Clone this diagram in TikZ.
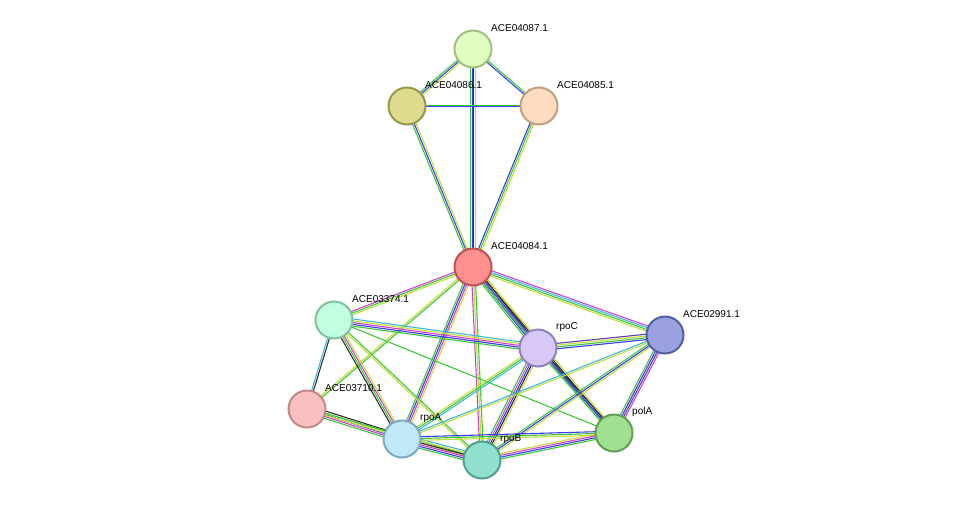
\documentclass[tikz,border=0pt]{standalone}
\usepackage{fontspec}
\setmainfont{Liberation Sans}
\usetikzlibrary{calc}

\definecolor{egreen}{HTML}{3CC83C}
\definecolor{eblue}{HTML}{3C3CF0}
\definecolor{eyellow}{HTML}{C8DC3C}
\definecolor{emag}{HTML}{D040D0}
\definecolor{ecyan}{HTML}{40B8D8}
\definecolor{epurple}{HTML}{6040A0}
\definecolor{eblack}{HTML}{303030}

\tikzset{
    protein/.style={circle, draw, line width=2pt, minimum size=37pt, inner sep=0pt},
    edge/.style={line width=1.1pt},
    tag/.style={anchor=west, font=\fontsize{10pt}{11pt}\selectfont, inner sep=0pt}
}

% one strand per colour, side by side
\newcommand\link[3]{%
    \foreach \c [count=\i] in {#3} {\xdef\nstr{\i}}%
    \foreach \c [count=\i] in {#3} {%
        \pgfmathsetmacro\off{(\i-(\nstr+1)/2)*1.8}%
        \draw[edge, \c] ($(#1)!\off pt!90:(#2)$) -- ($(#2)!\off pt!-90:(#1)$);}%
}

\begin{document}
\begin{tikzpicture}[x=1pt, y=-1pt]
    \useasboundingbox (0,0) rectangle (976,506);

    % positions
    \coordinate (c87) at (473,49);
    \coordinate (c86) at (407,106);
    \coordinate (c85) at (539,106);
    \coordinate (c84) at (473,267);
    \coordinate (c374) at (334,320);
    \coordinate (crpoC) at (538,348);
    \coordinate (c991) at (665,335);
    \coordinate (c710) at (307,409);
    \coordinate (crpoA) at (402,439);
    \coordinate (crpoB) at (482,460);
    \coordinate (cpolA) at (614,433);

    % edges
    \link{c87}{c86}{egreen,eblue,eyellow}
    \link{c87}{c85}{eblue,egreen}
    \link{c87}{c84}{egreen,eblue,eblack,eyellow}
    \link{c86}{c85}{eblue,egreen}
    \link{c86}{c84}{egreen,eblue,eyellow}
    \link{c85}{c84}{eblue,egreen,eyellow}
    \link{c84}{c374}{emag,egreen,eyellow}
    \link{c84}{crpoC}{egreen,eblue,emag,eblack,eyellow}
    \link{c84}{c991}{eyellow,egreen,ecyan,emag}
    \link{c84}{c710}{eyellow,egreen}
    \link{c84}{crpoA}{egreen,eblue,emag,eyellow}
    \link{c84}{crpoB}{emag,eyellow,egreen}
    \link{c84}{cpolA}{egreen,eblue,eblack,eyellow}
    \link{c374}{crpoC}{egreen,eblue,emag,eyellow,ecyan}
    \link{c374}{c710}{ecyan,eblack}
    \link{c374}{crpoA}{eblack,egreen,emag,eyellow}
    \link{c374}{crpoB}{eyellow,egreen}
    \link{c374}{cpolA}{egreen}
    \link{crpoC}{c991}{eblue,egreen,eyellow,epurple}
    \link{crpoC}{crpoA}{eyellow,egreen,ecyan}
    \link{crpoC}{crpoB}{egreen,emag,eblue,eblack,eyellow}
    \link{crpoC}{cpolA}{egreen,eblue,eblack}
    \link{c991}{cpolA}{egreen,eblue,epurple,emag}
    \link{c991}{crpoB}{egreen,eblue,eyellow}
    \link{c991}{crpoA}{ecyan,eyellow}
    \link{c710}{crpoA}{egreen,emag,eblue,eyellow,eblack}
    \link{c710}{crpoB}{eyellow,egreen}
    \link{crpoA}{crpoB}{egreen,eblue,emag,eblack,eyellow,ecyan}
    \link{crpoA}{cpolA}{eyellow,egreen,eblue}
    \link{crpoB}{cpolA}{egreen,eblue,emag,eyellow}

    % proteins
    \node[protein, fill={rgb,255:red,224;green,255;blue,192}, draw={rgb,255:red,160;green,192;blue,128}] (n87) at (c87) {};
    \node[protein, fill={rgb,255:red,220;green,220;blue,140}, draw={rgb,255:red,150;green,150;blue,80}] (n86) at (c86) {};
    \node[protein, fill={rgb,255:red,255;green,220;blue,192}, draw={rgb,255:red,192;green,160;blue,128}] (n85) at (c85) {};
    \node[protein, fill={rgb,255:red,255;green,144;blue,144}, draw={rgb,255:red,192;green,80;blue,80}] (n84) at (c84) {};
    \node[protein, fill={rgb,255:red,192;green,255;blue,224}, draw={rgb,255:red,128;green,192;blue,160}] (n374) at (c374) {};
    \node[protein, fill={rgb,255:red,216;green,200;blue,248}, draw={rgb,255:red,144;green,128;blue,192}] (nrpoC) at (crpoC) {};
    \node[protein, fill={rgb,255:red,154;green,160;blue,224}, draw={rgb,255:red,80;green,96;blue,160}] (n991) at (c991) {};
    \node[protein, fill={rgb,255:red,248;green,192;blue,192}, draw={rgb,255:red,192;green,136;blue,136}] (n710) at (c710) {};
    \node[protein, fill={rgb,255:red,192;green,232;blue,248}, draw={rgb,255:red,128;green,168;blue,192}] (nrpoA) at (crpoA) {};
    \node[protein, fill={rgb,255:red,144;green,224;blue,208}, draw={rgb,255:red,80;green,160;blue,144}] (nrpoB) at (crpoB) {};
    \node[protein, fill={rgb,255:red,160;green,224;blue,144}, draw={rgb,255:red,96;green,160;blue,80}] (npolA) at (cpolA) {};

    % labels
    \node[tag] at ($(c87)+(18,-21)$) {ACE04087.1};
    \node[tag] at ($(c86)+(18,-21)$) {ACE04086.1};
    \node[tag] at ($(c85)+(18,-21)$) {ACE04085.1};
    \node[tag] at ($(c84)+(18,-21)$) {ACE04084.1};
    \node[tag] at ($(c374)+(18,-21)$) {ACE03374.1};
    \node[tag] at ($(crpoC)+(18,-21)$) {rpoC};
    \node[tag] at ($(c991)+(18,-21)$) {ACE02991.1};
    \node[tag] at ($(c710)+(18,-21)$) {ACE03710.1};
    \node[tag] at ($(crpoA)+(18,-21)$) {rpoA};
    \node[tag] at ($(crpoB)+(18,-21)$) {rpoB};
    \node[tag] at ($(cpolA)+(18,-21)$) {polA};
\end{tikzpicture}
\end{document}
